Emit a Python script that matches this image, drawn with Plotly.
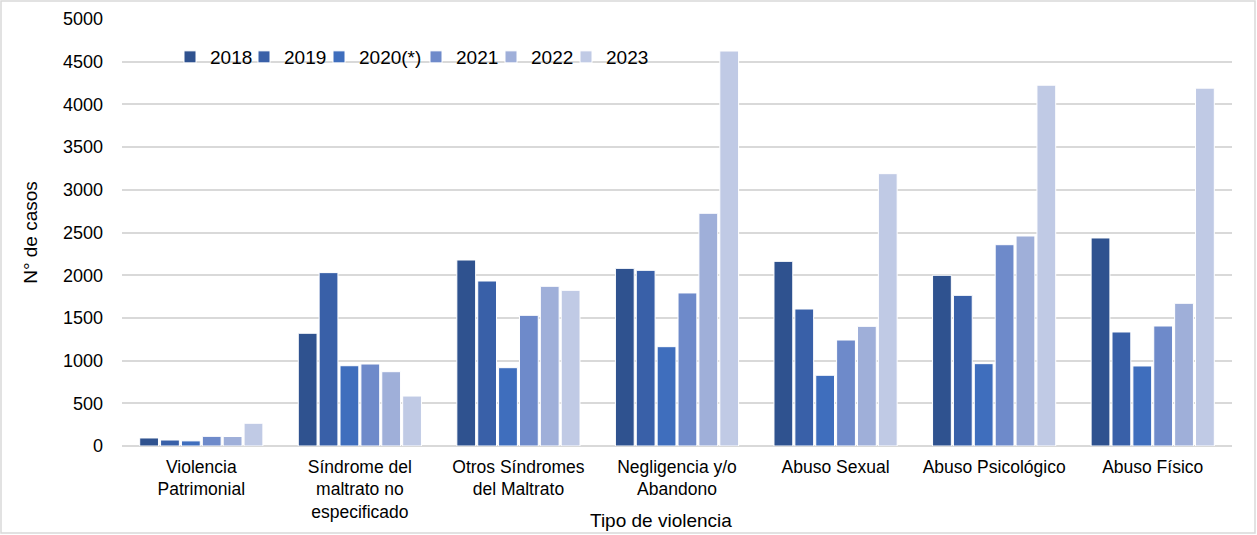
import plotly.graph_objects as go

categories = [
    "Violencia<br>Patrimonial",
    "Síndrome del<br>maltrato no<br>especificado",
    "Otros Síndromes<br>del Maltrato",
    "Negligencia y/o<br>Abandono",
    "Abuso Sexual",
    "Abuso Psicológico",
    "Abuso Físico",
]
years = ["2018", "2019", "2020(*)", "2021", "2022", "2023"]

v2018 = [94, 1320, 2178, 2080, 2162, 1999, 2436]
v2019 = [70, 2030, 1932, 2057, 1604, 1764, 1335]
v2020 = [60, 940, 917, 1163, 828, 964, 937]
v2021 = [113, 960, 1530, 1792, 1241, 2357, 1405]
v2022 = [111, 870, 1870, 2725, 1401, 2459, 1671]
v2023 = [266, 585, 1823, 4625, 3189, 4225, 4190]

series = [v2018, v2019, v2020, v2021, v2022, v2023]
colors = ["#2F528F", "#3960A8", "#3F6EBD", "#6E8ACA", "#9FAFD9", "#C0CAE5"]
legend_widths = [29, 30, 52, 30, 30, 46]

FONT = "Liberation Sans, Arial, sans-serif"

fig = go.Figure()
for name, vals, col, lw in zip(years, series, colors, legend_widths):
    fig.add_trace(go.Bar(
        x=categories, y=vals, name=name, legendwidth=lw,
        marker=dict(color=col, line=dict(color="white", width=1)),
    ))

W, H = 1257, 535
L, R, T, B = 122, 25, 19, 89
pw = W - L - R
ph = H - T - B

fig.update_layout(
    width=W, height=H,
    margin=dict(l=L, r=R, t=T, b=B, autoexpand=False),
    paper_bgcolor="white", plot_bgcolor="white",
    font=dict(family=FONT, size=18, color="#000000"),
    barmode="group", bargap=0.21, bargroupgap=0.1,
    showlegend=True,
    legend=dict(
        orientation="h", x=(170 - L) / pw, y=(H - B - 57) / ph,
        xanchor="left", yanchor="middle",
        font=dict(size=19), bgcolor="rgba(0,0,0,0)", traceorder="normal",
        itemwidth=30,
    ),
    xaxis=dict(
        showgrid=False, showline=False, ticks="", tickfont=dict(size=17.5),
        ticklabelstandoff=8, automargin=False,
    ),
    yaxis=dict(
        range=[0, 5000], dtick=500, showgrid=True, gridcolor="#D9D9D9", gridwidth=1.5,
        zeroline=True, zerolinecolor="#D9D9D9", zerolinewidth=1.5,
        showline=False, ticks="", tickfont=dict(size=18), ticklabelstandoff=18,
        automargin=False,
        title=dict(text="N° de casos", font=dict(size=19), standoff=20),
    ),
    annotations=[dict(
        text="Tipo de violencia", xref="paper", yref="paper",
        x=(661 - L) / pw, y=(H - B - 520) / ph, xanchor="center", yanchor="middle",
        showarrow=False, font=dict(size=19),
    )],
    shapes=[dict(
        type="rect", xref="paper", yref="paper",
        x0=(1 - L) / pw, x1=(W - 2 - L) / pw,
        y0=(H - B - (H - 2)) / ph, y1=(H - B - 1) / ph,
        line=dict(color="#D9D9D9", width=1.5), fillcolor="rgba(0,0,0,0)",
        layer="below",
    )],
)

fig.write_html(
    "out.html",
    config={"responsive": False, "displayModeBar": False},
    post_script="document.body.style.margin='0';document.body.style.overflow='hidden';",
)
